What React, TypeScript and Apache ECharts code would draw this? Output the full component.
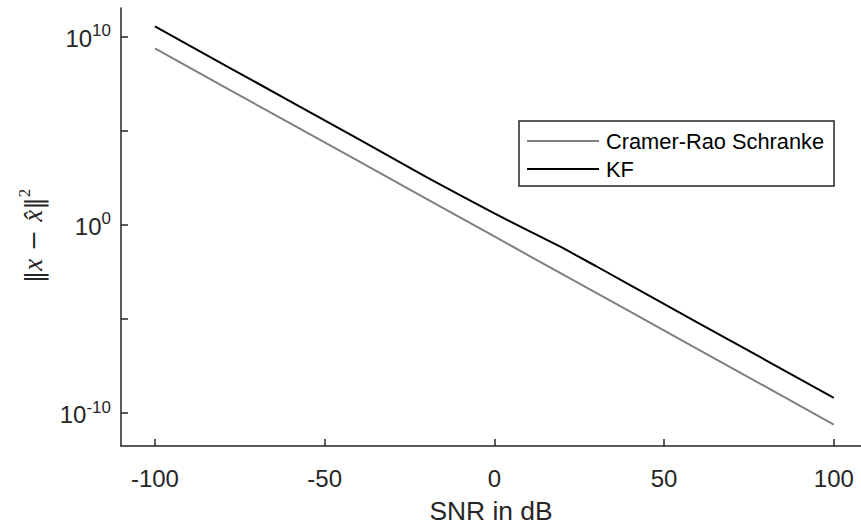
import React, { useEffect, useRef } from "react";
import * as echarts from "echarts";

// SNR sweep in dB
const snrDb = [-100, -80, -60, -40, -20, -10, 0, 10, 20, 30, 40, 60, 80, 100];
// Cramer-Rao bound on the squared error
const crbValues = [2.3e9, 2.3e7, 2.3e5, 2.3e3, 23, 2.3, 0.23, 0.023, 2.3e-3, 2.3e-4, 2.3e-5, 2.3e-7, 2.3e-9, 2.3e-11];
// Kalman filter squared error
const kfValues = [3.4e10, 3.4e8, 3.45e6, 3.4e4, 330, 35, 3.9, 0.47, 0.058, 6.0e-3, 5.9e-4, 5.9e-6, 6.0e-8, 6.0e-10];

const xTicks = [-100, -50, 0, 50, 100];
const yTicks = [1e-10, 1e-5, 1, 1e5, 1e10];
const yLabels = [1e-10, 1, 1e10];

const seriesNames = ["Cramer-Rao Schranke", "KF"];

const FONT = "'Liberation Sans', Arial, Helvetica, sans-serif";
const MATH = "'Liberation Serif', 'DejaVu Serif', serif";
const AXIS_COLOR = "#262626";

export default function App() {
  const ref = useRef<HTMLDivElement>(null);

  useEffect(() => {
    if (!ref.current) return;
    const chart = echarts.init(ref.current, undefined, { renderer: "svg" });
    chart.setOption({
      animation: false,
      backgroundColor: "#ffffff",
      textStyle: { fontFamily: FONT },
      grid: { left: 121, top: 8, right: 0, bottom: 77, containLabel: false },
      legend: {
        orient: "vertical",
        left: 519,
        top: 121,
        data: seriesNames,
        borderColor: AXIS_COLOR,
        borderWidth: 1.5,
        padding: [8, 10, 5, 8],
        itemWidth: 72,
        itemHeight: 14,
        itemGap: 4,
        icon: "path://M0,6 L72,6 L72,8 L0,8 Z",
        textStyle: { fontFamily: FONT, fontSize: 21.8, color: "#000", lineHeight: 24, padding: [0, 0, 0, 2] },
      },
      graphic: [
        {
          type: "text",
          x: 31,
          y: 236,
          rotation: Math.PI / 2,
          style: {
            text: "{n|‖}{i|x}{n| − }{i|x̂}{n|‖}{s|2}",
            align: "center",
            verticalAlign: "middle",
            rich: {
              n: { fontFamily: "'DejaVu Serif', serif", fontSize: 25, fill: "#262626", verticalAlign: "bottom", lineHeight: 30 },
              i: { fontFamily: MATH, fontStyle: "italic", fontSize: 27, fill: "#262626", verticalAlign: "bottom", lineHeight: 30 },
              s: { fontFamily: MATH, fontSize: 17, fill: "#262626", verticalAlign: "top", lineHeight: 17 },
            },
          },
        },
      ],
      xAxis: {
        type: "value",
        min: -110,
        max: 108,
        name: "SNR in dB",
        nameLocation: "middle",
        nameGap: 52,
        nameTextStyle: { fontFamily: FONT, fontSize: 26.4, color: "#262626" },
        axisLine: { show: true, onZero: false, lineStyle: { color: AXIS_COLOR, width: 1.5 } },
        axisTick: { show: true, inside: true, length: 7, customValues: xTicks, lineStyle: { color: AXIS_COLOR, width: 1.5 } },
        axisLabel: { customValues: xTicks, fontFamily: FONT, fontSize: 24, color: "#262626", margin: 20 },
        splitLine: { show: false },
      },
      yAxis: {
        type: "log",
        logBase: 10,
        min: 1.66e-12,
        max: 3.24e11,
        axisLine: { show: true, onZero: false, lineStyle: { color: AXIS_COLOR, width: 1.5 } },
        axisTick: { show: true, inside: true, length: 7, customValues: yTicks, lineStyle: { color: AXIS_COLOR, width: 1.5 } },
        axisLabel: {
          customValues: yLabels,
          margin: 10,
          formatter: (v: number) => `{b|10}{s|${Math.round(Math.log10(v))}}`,
          rich: {
            b: { fontFamily: FONT, fontSize: 24, color: "#262626", verticalAlign: "bottom", lineHeight: 28 },
            s: { fontFamily: FONT, fontSize: 17, color: "#262626", verticalAlign: "top", lineHeight: 17 },
          },
        },
        splitLine: { show: false },
        minorTick: { show: false },
      },
      series: [
        {
          name: seriesNames[0],
          type: "line",
          data: snrDb.map((x, i) => [x, crbValues[i]]),
          showSymbol: false,
          symbol: "none",
          lineStyle: { color: "#808080", width: 2 },
          itemStyle: { color: "#808080" },
        },
        {
          name: seriesNames[1],
          type: "line",
          data: snrDb.map((x, i) => [x, kfValues[i]]),
          showSymbol: false,
          symbol: "none",
          lineStyle: { color: "#000000", width: 2 },
          itemStyle: { color: "#000000" },
        },
      ],
    });
    return () => chart.dispose();
  }, []);

  return (
    <div
      ref={ref}
      style={{ position: "fixed", left: 0, top: 0, width: 861, height: 529, background: "#fff" }}
    />
  );
}
